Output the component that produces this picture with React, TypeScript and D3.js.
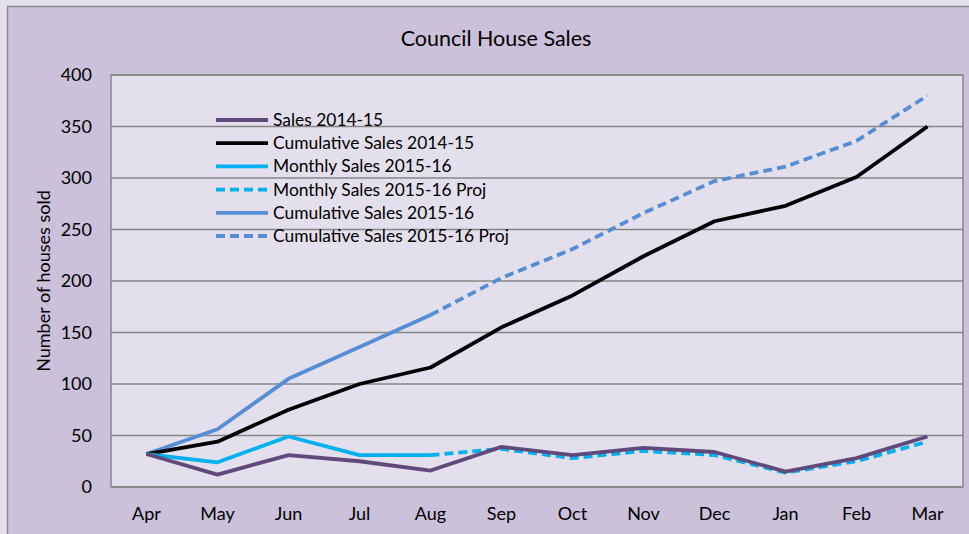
import React from "react";
import * as d3 from "d3";

const months = ["Apr", "May", "Jun", "Jul", "Aug", "Sep", "Oct", "Nov", "Dec", "Jan", "Feb", "Mar"];
const sales1415 = [32, 12, 31, 25, 16, 39, 31, 38, 34, 15, 28, 49];
const cumSales1415 = [32, 44, 75, 100, 116, 155, 186, 224, 258, 273, 301, 350];
const monthly1516: (number | null)[] = [32, 24, 49, 31, 31, null, null, null, null, null, null, null];
const monthly1516Proj: (number | null)[] = [null, null, null, null, 31, 37, 28, 35, 31, 14, 25, 44];
const cum1516: (number | null)[] = [32, 56, 105, 136, 167, null, null, null, null, null, null, null];
const cum1516Proj: (number | null)[] = [null, null, null, null, 167, 203, 231, 266, 297, 311, 336, 380];
const yTicks = [0, 50, 100, 150, 200, 250, 300, 350, 400];

const series = [
  { name: "Sales 2014-15", values: sales1415, color: "#604a7b", dash: "" },
  { name: "Cumulative Sales 2014-15", values: cumSales1415, color: "#000000", dash: "" },
  { name: "Monthly Sales 2015-16", values: monthly1516, color: "#00b0f0", dash: "" },
  { name: "Monthly Sales 2015-16 Proj", values: monthly1516Proj, color: "#00b0f0", dash: "9,5" },
  { name: "Cumulative Sales 2015-16", values: cum1516, color: "#558ed5", dash: "" },
  { name: "Cumulative Sales 2015-16 Proj", values: cum1516Proj, color: "#558ed5", dash: "9,5" },
];

const FONT = "Lato, 'Open Sans', sans-serif";

export default function App() {
  const W = 969, H = 534;
  const left = 111, right = 963, top = 75, bottom = 487;
  const x = d3.scaleBand<string>().domain(months).range([left, right]);
  const y = d3.scaleLinear().domain([0, 400]).range([bottom, top]);
  const cx = (m: string) => (x(m) as number) + x.bandwidth() / 2;
  const line = d3
    .line<number | null>()
    .defined((d) => d !== null)
    .x((_, i) => cx(months[i]))
    .y((d) => y(d as number));

  const drawOrder = [4, 5, 1, 2, 3, 0];

  return (
    <svg width={W} height={H} style={{ position: "absolute", left: 0, top: 0 }} fontFamily={FONT}>
      <rect x={0} y={0} width={W} height={H} fill="#e4dfec" />
      <rect x={7.5} y={6.5} width={W + 10} height={H + 10} fill="#ccc1da" stroke="#8c8c8c" strokeWidth={1.5} />
      <rect x={left} y={top} width={right - left} height={bottom - top} fill="#e4dfec" />
      {yTicks.map((t) => (
        <line key={t} x1={left} x2={right} y1={y(t)} y2={y(t)} stroke="#868686" strokeWidth={1.3} />
      ))}
      <rect x={left} y={top} width={right - left} height={bottom - top} fill="none" stroke="#868686" strokeWidth={1.5} />
      {yTicks.map((t) => (
        <text key={t} x={92} y={y(t)} dy="0.35em" textAnchor="end" fontSize={18} fill="#000">
          {t}
        </text>
      ))}
      {months.map((m) => (
        <text key={m} x={cx(m)} y={514} dy="0.35em" textAnchor="middle" fontSize={18} fill="#000">
          {m}
        </text>
      ))}
      <text x={496} y={38} dy="0.35em" textAnchor="middle" fontSize={21.5} fill="#000">
        Council House Sales
      </text>
      <text
        transform={`translate(44,281) rotate(-90)`}
        dy="0.35em"
        textAnchor="middle"
        fontSize={18}
        fill="#000"
      >
        Number of houses sold
      </text>
      {drawOrder.map((i) => {
        const s = series[i];
        return (
          <path
            key={s.name}
            d={line(s.values) || ""}
            fill="none"
            stroke={s.color}
            strokeWidth={3.8}
            strokeDasharray={s.dash || undefined}
            strokeLinejoin="round"
          />
        );
      })}
      {series.map((s, i) => {
        const ly = 120 + i * 23.2;
        return (
          <g key={s.name}>
            <line x1={216} x2={268} y1={ly} y2={ly} stroke={s.color} strokeWidth={3.8} strokeDasharray={s.dash || undefined} />
            <text x={273} y={ly} dy="0.35em" fontSize={17.4} fill="#000">
              {s.name}
            </text>
          </g>
        );
      })}
    </svg>
  );
}
